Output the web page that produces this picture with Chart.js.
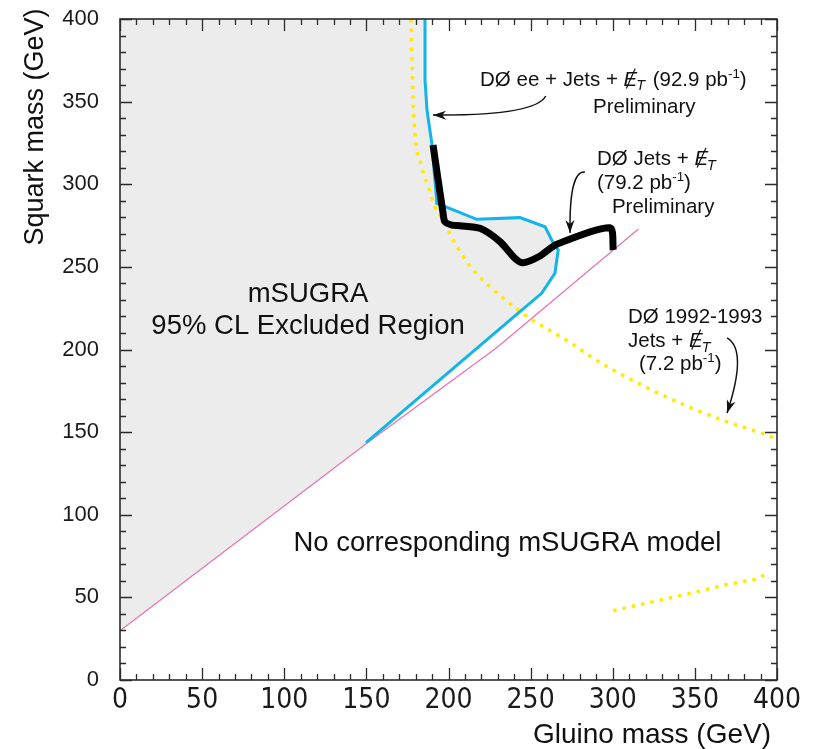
<!DOCTYPE html>
<html>
<head>
<meta charset="utf-8">
<script src="https://cdn.jsdelivr.net/npm/chart.js@4.4.1/dist/chart.umd.min.js"></script>
<style>
  html, body { margin: 0; padding: 0; background: #fff; }
</style>
</head>
<body>
<canvas id="mycanvas" width="815" height="749"></canvas>
<script>
// axis range and labels
var axisMin = 0;
var axisMax = 400;
var xTitle = "Gluino mass (GeV)";
var yTitle = "Squark mass (GeV)";

// D0 ee + jets + MET limit (cyan)
var eeX = [185.7, 185.7, 186.9, 189.8, 191.2, 192.8, 192.8, 217.2, 243.5, 258.8, 263.4, 266.8, 264.8, 256.7, 237.4, 149.8];
var eeY = [400, 363.1, 344.9, 325.0, 308.6, 290.5, 288.5, 278.8, 279.8, 274.3, 265.2, 260.2, 246.1, 234.0, 217.8, 143.6];

// D0 jets + MET limit (black)
var jetsX = [190.6, 196.7, 197.8, 202.1, 207.0, 219.2, 231.4, 240.5, 245.5, 255.7, 265.9, 298.3, 300.3];
var jetsY = [323.7, 282.4, 277.3, 275.3, 274.9, 273.3, 265.2, 255.2, 252.5, 256.6, 263.7, 273.7, 260.2];

// D0 1992-1993 limit (yellow, dotted)
var runIaX = [177.2, 178.6, 183.7, 187.7, 191.8, 195.9, 207.0, 215.1, 225.3, 233.4, 242.5, 251.6, 261.8, 276.0, 288.2, 301.4, 323.7, 346.0, 369.4, 393.7, 400];
var runIaY = [400, 347.0, 310.6, 298.5, 286.4, 279.4, 259.2, 248.1, 238.0, 231.0, 223.9, 217.5, 211.5, 203.0, 194.7, 187.0, 175.5, 165.4, 156.3, 148.3, 145.8];
var runIbX = [300.3, 324.7, 349.0, 368.3, 386.6, 393.3];
var runIbY = [41.9, 47.4, 52.8, 57.5, 60.9, 64.0];

// edge of the mSUGRA model space (pink)
var edgeX = [0, 150.4, 229.3, 315.6];
var edgeY = [29.8, 143.4, 201.1, 272.9];

// excluded region, lower and upper border
var lowX = [0, 149.8, 237.4, 256.7, 264.8, 266.8];
var lowY = [29.8, 143.5, 217.8, 234.0, 246.1, 260.2];
var highX = [0, 185.7, 185.7, 186.9, 189.8, 191.2, 192.8, 192.8, 217.2, 243.5, 258.8, 263.4, 266.8];
var highY = [400, 400, 363.1, 344.9, 325.0, 308.6, 290.5, 288.5, 278.8, 279.8, 274.3, 265.2, 260.2];

function pts(xs, ys) {
  var out = [];
  for (var i = 0; i < xs.length; i++) {
    out.push({ x: xs[i], y: ys[i] });
  }
  return out;
}

var textFont = "'Liberation Sans', Arial, sans-serif";

// draws a line of text made of pieces; "MET" means E-slash-T, {sup:..} is a superscript
function drawRich(ctx, parts, x, y, size) {
  ctx.textAlign = "left";
  ctx.textBaseline = "alphabetic";
  parts.forEach(function(p) {
    if (p === "MET") {
      ctx.font = "italic " + size + "px " + textFont;
      var ew = ctx.measureText("E").width;
      ctx.fillText("E", x, y);
      ctx.beginPath();
      ctx.lineWidth = 1.2;
      ctx.moveTo(x + ew * 0.2, y + size * 0.12);
      ctx.lineTo(x + ew * 0.85, y - size * 0.85);
      ctx.stroke();
      x += ew;
      ctx.font = "italic " + (size * 0.7) + "px " + textFont;
      ctx.fillText("T", x - 1, y + size * 0.22);
      x += ctx.measureText("T").width + 1;
    } else if (typeof p === "object") {
      ctx.font = (size * 0.65) + "px " + textFont;
      ctx.fillText(p.sup, x, y - size * 0.4);
      x += ctx.measureText(p.sup).width;
    } else {
      ctx.font = size + "px " + textFont;
      ctx.fillText(p, x, y);
      x += ctx.measureText(p).width;
    }
  });
}

function arrow(ctx, p0, c, p2) {
  ctx.beginPath();
  ctx.lineWidth = 1.5;
  ctx.moveTo(p0[0], p0[1]);
  ctx.quadraticCurveTo(c[0], c[1], p2[0], p2[1]);
  ctx.stroke();
  var a = Math.atan2(p2[1] - c[1], p2[0] - c[0]);
  var len = 13, half = 4.5;
  ctx.beginPath();
  ctx.moveTo(p2[0], p2[1]);
  ctx.lineTo(p2[0] - len * Math.cos(a) + half * Math.sin(a), p2[1] - len * Math.sin(a) - half * Math.cos(a));
  ctx.lineTo(p2[0] - len * 0.7 * Math.cos(a), p2[1] - len * 0.7 * Math.sin(a));
  ctx.lineTo(p2[0] - len * Math.cos(a) - half * Math.sin(a), p2[1] - len * Math.sin(a) + half * Math.cos(a));
  ctx.closePath();
  ctx.fill();
}

var framePlugin = {
  id: "frame",
  afterDraw: function(chart) {
    var ctx = chart.ctx;
    var xs = chart.scales.x, ys = chart.scales.y;
    var area = chart.chartArea;
    function P(x, y) { return [xs.getPixelForValue(x), ys.getPixelForValue(y)]; }

    ctx.save();
    ctx.strokeStyle = "#2b2b2b";
    ctx.fillStyle = "#2b2b2b";

    // ticks on all four sides, pointing in
    ctx.lineWidth = 1.3;
    ctx.beginPath();
    for (var v = axisMin; v <= axisMax; v += 10) {
      var len = (v % 50 === 0) ? 12 : 6;
      var px = Math.round(xs.getPixelForValue(v)) + 0.5;
      var py = Math.round(ys.getPixelForValue(v)) + 0.5;
      ctx.moveTo(px, area.bottom); ctx.lineTo(px, area.bottom - len);
      ctx.moveTo(px, area.top); ctx.lineTo(px, area.top + len);
      ctx.moveTo(area.left, py); ctx.lineTo(area.left + len, py);
      ctx.moveTo(area.right, py); ctx.lineTo(area.right - len, py);
    }
    ctx.stroke();

    ctx.lineWidth = 1.6;
    ctx.strokeRect(area.left, area.top, area.right - area.left, area.bottom - area.top);

    // axis titles
    ctx.fillStyle = "#111";
    ctx.font = "28px " + textFont;
    ctx.textAlign = "right";
    ctx.textBaseline = "alphabetic";
    ctx.fillText(xTitle, 771, 743);
    ctx.save();
    ctx.translate(42.5, 127);
    ctx.rotate(-Math.PI / 2);
    ctx.font = "27px " + textFont;
    ctx.textAlign = "center";
    ctx.fillText(yTitle, 0, 0);
    ctx.restore();

    // region labels
    ctx.font = "27.5px " + textFont;
    ctx.textAlign = "center";
    var a = P(114.5, 228.7);
    ctx.fillText("mSUGRA", a[0], a[1]);
    a = P(114.5, 209.4);
    ctx.fillText("95% CL Excluded Region", a[0], a[1]);
    a = P(235.9, 78.1);
    ctx.fillText("No corresponding mSUGRA model", a[0], a[1]);

    // annotations for each limit curve
    ctx.fillStyle = "#111";
    ctx.strokeStyle = "#111";
    var s = 20.5;
    a = P(219.2, 359.5);
    drawRich(ctx, ["D\u00d8 ee + Jets + ", "MET", " (92.9 pb", { sup: "-1" }, ")"], a[0], a[1], s);
    a = P(288.0, 343.1);
    drawRich(ctx, ["Preliminary"], a[0], a[1], s);
    arrow(ctx, P(259.2, 353.4), P(252.7, 341.3), P(190.6, 341.9));

    a = P(290.4, 311.6);
    drawRich(ctx, ["D\u00d8 Jets + ", "MET"], a[0], a[1], s);
    a = P(290.4, 297.1);
    drawRich(ctx, ["(79.2 pb", { sup: "-1" }, ")"], a[0], a[1], s);
    a = P(299.5, 282.6);
    drawRich(ctx, ["Preliminary"], a[0], a[1], s);
    arrow(ctx, P(283.1, 307.4), P(273.4, 308.6), P(274.0, 270.5));

    a = P(309.3, 216.0);
    drawRich(ctx, ["D\u00d8 1992-1993"], a[0], a[1], s);
    a = P(309.3, 201.5);
    drawRich(ctx, ["Jets + ", "MET"], a[0], a[1], s);
    a = P(316.0, 187.6);
    drawRich(ctx, ["(7.2 pb", { sup: "-1" }, ")"], a[0], a[1], s);
    arrow(ctx, P(369.6, 207.0), P(382.3, 199.7), P(369.6, 161.6));

    ctx.restore();
  }
};

var ctx = document.getElementById("mycanvas").getContext("2d");

var chart = new Chart(ctx, {
  type: "line",
  data: {
    datasets: [
      {
        label: "excluded",
        data: pts(lowX, lowY),
        fill: 1,
        backgroundColor: "#ececec",
        borderWidth: 0,
        borderColor: "rgba(0,0,0,0)",
        order: 10
      },
      {
        label: "excluded top",
        data: pts(highX, highY),
        fill: false,
        borderWidth: 0,
        borderColor: "rgba(0,0,0,0)",
        order: 10
      },
      {
        label: "model edge",
        data: pts(edgeX, edgeY),
        fill: false,
        borderColor: "#ea6fb0",
        borderWidth: 1.2,
        order: 6
      },
      {
        label: "D0 1992-1993",
        data: pts(runIaX, runIaY),
        fill: false,
        borderColor: "#ffea00",
        borderWidth: 3.5,
        borderDash: [3.5, 6],
        borderCapStyle: "butt",
        cubicInterpolationMode: "monotone",
        tension: 0.3,
        order: 5
      },
      {
        label: "D0 1992-1993 low",
        data: pts(runIbX, runIbY),
        fill: false,
        borderColor: "#ffea00",
        borderWidth: 3.5,
        borderDash: [3.5, 6],
        borderCapStyle: "butt",
        order: 5
      },
      {
        label: "D0 ee + jets",
        data: pts(eeX, eeY),
        fill: false,
        borderColor: "#13b4e8",
        borderWidth: 3,
        borderJoinStyle: "miter",
        order: 3
      },
      {
        label: "D0 jets",
        data: pts(jetsX, jetsY),
        fill: false,
        borderColor: "#000000",
        borderWidth: 7,
        borderJoinStyle: "round",
        tension: 0.25,
        order: 1
      }
    ]
  },
  options: {
    responsive: false,
    animation: false,
    devicePixelRatio: 1,
    layout: { padding: { top: 19, right: 38, left: 0, bottom: 0 } },
    elements: { point: { radius: 0, hoverRadius: 0 } },
    plugins: {
      legend: { display: false },
      tooltip: { enabled: false },
      filler: { propagate: false }
    },
    scales: {
      x: {
        type: "linear",
        min: axisMin,
        max: axisMax,
        grid: { display: false, drawTicks: false },
        border: { display: false },
        ticks: {
          stepSize: 50,
          padding: 4,
          maxRotation: 0,
          color: "#1a1a1a",
          font: { family: "'Liberation Sans Narrow', 'Arial Narrow', 'DejaVu Sans Condensed', sans-serif", size: 28 }
        },
        afterFit: function(scale) {
          scale.height = 69;
          scale.paddingLeft = 0;
          scale.paddingRight = 0;
        }
      },
      y: {
        type: "linear",
        min: axisMin,
        max: axisMax,
        grid: { display: false, drawTicks: false },
        border: { display: false },
        ticks: {
          stepSize: 50,
          padding: 21,
          color: "#1a1a1a",
          font: { family: textFont, size: 22 }
        },
        afterFit: function(scale) {
          scale.width = 120;
          scale.paddingTop = 0;
          scale.paddingBottom = 0;
        }
      }
    }
  },
  plugins: [framePlugin]
});
</script>
</body>
</html>
